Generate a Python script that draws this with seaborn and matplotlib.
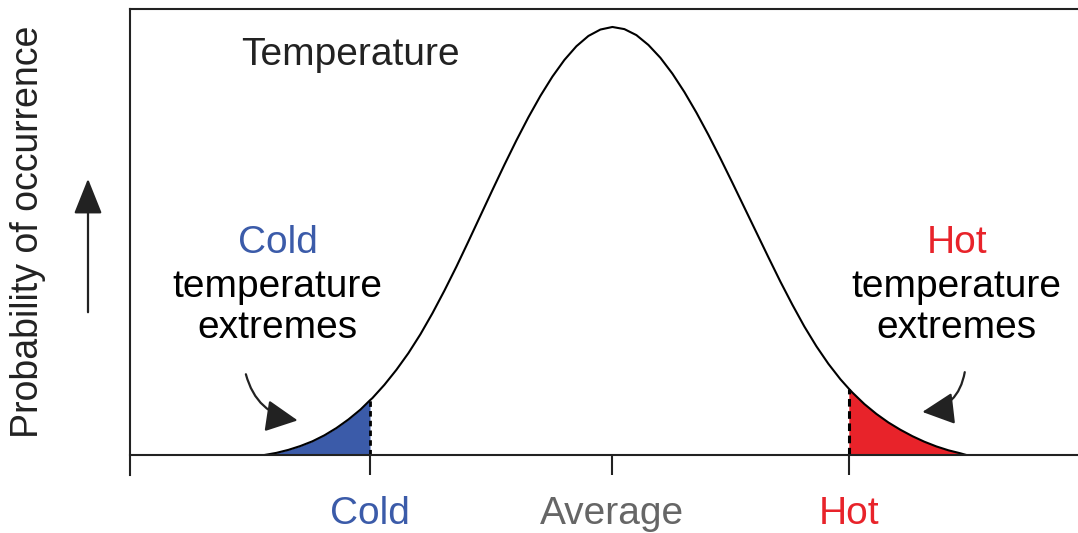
import numpy as np
import pandas as pd
import seaborn as sns
import matplotlib.pyplot as plt
from matplotlib.patches import FancyArrowPatch

# curve (x in "std dev" units, y relative to the peak)
temp_x = [-2.9, -2.8, -2.7, -2.6, -2.5, -2.4, -2.3, -2.2, -2.1, -2.02, -2.0, -1.9, -1.8,
          -1.7, -1.6, -1.5, -1.4, -1.3, -1.2, -1.1, -1.0, -0.9, -0.8, -0.7, -0.6, -0.5,
          -0.4, -0.3, -0.2, -0.1, 0.0, 0.1, 0.2, 0.3, 0.4, 0.5, 0.6, 0.7, 0.8, 0.9, 1.0,
          1.1, 1.2, 1.3, 1.4, 1.5, 1.6, 1.7, 1.8, 1.9, 1.97, 2.0, 2.1, 2.2, 2.3, 2.4, 2.5,
          2.6, 2.7, 2.8, 2.9, 2.95]
prob_y = [0.0, 0.005, 0.012, 0.021, 0.032, 0.046, 0.063, 0.083, 0.106, 0.128, 0.133, 0.164,
          0.199, 0.238, 0.282, 0.331, 0.384, 0.440, 0.499, 0.559, 0.619, 0.678, 0.735, 0.789,
          0.839, 0.884, 0.923, 0.955, 0.979, 0.994, 1.0, 0.995, 0.981, 0.958, 0.928, 0.891,
          0.848, 0.800, 0.748, 0.693, 0.636, 0.578, 0.520, 0.462, 0.405, 0.351, 0.300, 0.254,
          0.213, 0.177, 0.155, 0.146, 0.119, 0.096, 0.076, 0.059, 0.044, 0.031, 0.020, 0.011,
          0.004, 0.0]

tick_pos = [-2.02, 0.0, 1.97]
tick_labels = ["Cold", "Average", "Hot"]
tick_colors = ["#3B5BA9", "#666666", "#E8232A"]

cold_limit = -2.02
hot_limit = 1.97

df = pd.DataFrame({"temp": temp_x, "prob": prob_y})

sns.set_style("white")
plt.rcParams["font.family"] = ["Liberation Sans", "DejaVu Sans"]

fig = plt.figure(figsize=(10.78, 5.33), dpi=100)
ax = fig.add_axes([130 / 1078, 58 / 533, 960 / 1078, 466 / 533])

sns.lineplot(data=df, x="temp", y="prob", color="black", linewidth=1.5, sort=False, ax=ax)

cold = df[df["temp"] <= cold_limit]
hot = df[df["temp"] >= hot_limit]
ax.fill_between(cold["temp"], 0, cold["prob"], color="#3B5BA9", linewidth=0)
ax.fill_between(hot["temp"], 0, hot["prob"], color="#E8232A", linewidth=0)

# dashed edges of the shaded tails
cold_top = df.loc[df["temp"] == cold_limit, "prob"].iloc[0]
hot_top = df.loc[df["temp"] == hot_limit, "prob"].iloc[0]
ax.vlines(cold_limit, 0, cold_top, colors="black", linestyles=(0, (2, 1.5)), linewidth=2)
ax.vlines(hot_limit, 0, hot_top, colors="black", linestyles=(0, (2.5, 1.5)), linewidth=2.2)

ax.set_xlim(-4.02, 3.98)
ax.set_ylim(-0.0467, 1.042)

for s in ["left", "top", "bottom"]:
    ax.spines[s].set_visible(True)
    ax.spines[s].set_color("#222222")
    ax.spines[s].set_linewidth(1.5)
ax.spines["right"].set_visible(False)
ax.spines["bottom"].set_position(("data", 0))

ax.set_xticks(tick_pos)
ax.set_xticklabels(tick_labels)
ax.tick_params(axis="x", direction="out", length=14.4, width=1.5, color="#222222",
               labelsize=28, pad=15, bottom=True)
for lbl, c in zip(ax.get_xticklabels(), tick_colors):
    lbl.set_color(c)
ax.set_yticks([])
ax.set_xlabel(None)

ax.set_ylabel("Probability of occurrence", fontsize=27, color="#222222")
ax.yaxis.set_label_coords(-0.087, 0.521)

# texts inside the plot
fs = 28
ax.text(-3.09, 0.911, "Temperature", fontsize=fs, color="#222222", ha="left", va="baseline")
ax.text(-2.79, 0.472, "Cold", fontsize=fs, color="#3B5BA9", ha="center", va="baseline")
ax.text(-2.79, 0.369, "temperature", fontsize=fs, color="black", ha="center", va="baseline")
ax.text(-2.79, 0.273, "extremes", fontsize=fs, color="black", ha="center", va="baseline")
ax.text(2.87, 0.472, "Hot", fontsize=fs, color="#E8232A", ha="center", va="baseline")
ax.text(2.87, 0.369, "temperature", fontsize=fs, color="black", ha="center", va="baseline")
ax.text(2.87, 0.273, "extremes", fontsize=fs, color="black", ha="center", va="baseline")

# curved pointer arrows
arrow_kw = dict(arrowstyle="-|>,head_length=1.1,head_width=0.55", color="#222222", lw=1.6,
                mutation_scale=18)
ax.annotate("", xy=(-2.6, 0.08), xytext=(-3.06, 0.195),
            arrowprops=dict(connectionstyle="arc3,rad=0.35", **arrow_kw))
ax.annotate("", xy=(2.56, 0.1), xytext=(2.94, 0.2),
            arrowprops=dict(connectionstyle="arc3,rad=-0.4", **arrow_kw))

# upward arrow next to the y label
fig.add_artist(FancyArrowPatch(
    (88, 533 - 315), (88, 533 - 176), transform=None,
    arrowstyle="-|>,head_length=1.0,head_width=0.4", color="#222222", lw=1.6,
    mutation_scale=22))

fig.savefig("out.png", dpi=100)
